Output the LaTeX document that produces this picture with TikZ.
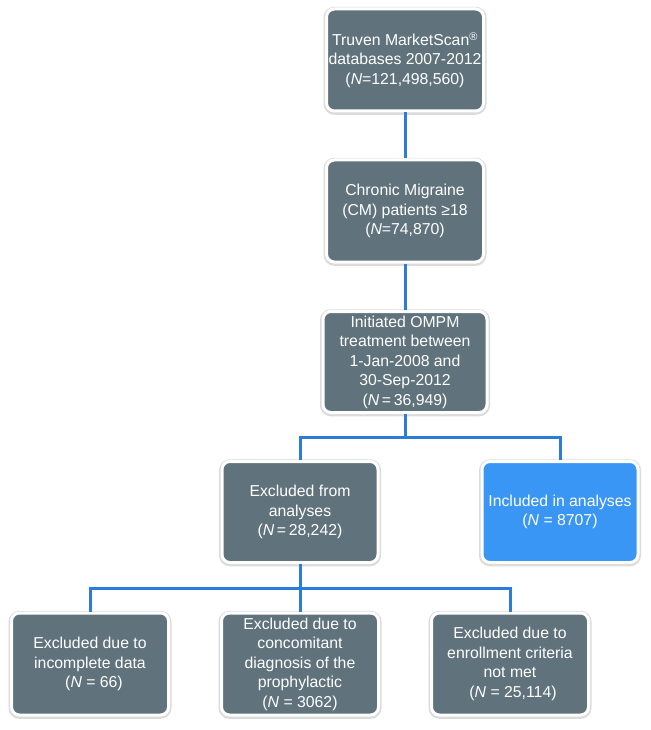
\documentclass[tikz,border=0pt]{standalone}
\usepackage{fontspec}
\setmainfont{Liberation Sans}
\usetikzlibrary{shadows}
\definecolor{boxgray}{RGB}{96,114,124}
\definecolor{boxblue}{RGB}{58,150,245}
\definecolor{linkblue}{RGB}{44,124,218}
\tikzset{
  x=1pt, y=-1pt,
  flowbox/.style={rectangle, rounded corners=8pt, fill=boxgray, draw=white, line width=3pt,
    text=white, align=center, minimum width=157pt, minimum height=102pt, inner sep=2pt,
    font=\fontsize{15.8}{19.5}\selectfont,
    preaction={draw=black!14, line width=6pt, transform canvas={yshift=-0.8pt}}},
  bluebox/.style={flowbox, fill=boxblue},
  link/.style={draw=linkblue, line width=3pt}
}
\begin{document}
\begin{tikzpicture}
\useasboundingbox (0,0) rectangle (650,730);
\coordinate (j1) at (405,437);
\coordinate (j2) at (300,588);
\node[flowbox] (b1) at (405,60) {Truven MarketScan\textsuperscript{®}\\databases 2007-2012\\(\textit{N}=121,498,560)};
\node[flowbox] (b2) at (405,211) {Chronic Migraine\\(CM) patients ≥18\\(\textit{N}=74,870)};
\node[flowbox, minimum width=164pt, minimum height=101pt] (b3) at (405,362) {Initiated OMPM\\treatment between\\1-Jan-2008 and\\30-Sep-2012\\(\textit{N}\,=\,36,949)};
\node[flowbox, minimum width=156pt, minimum height=101pt] (b4) at (300,512) {Excluded from\\analyses\\(\textit{N}\,=\,28,242)};
\node[bluebox, minimum width=156pt, minimum height=101pt] (b5) at (560,512) {Included in analyses\\(\textit{N} = 8707)};
\node[flowbox] (a) at (90,664) {Excluded due to\\incomplete data\\\hspace{8pt}(\textit{N} = 66)};
\node[flowbox] (b) at (300,664) {Excluded due to\\concomitant\\diagnosis of the\\prophylactic\\(\textit{N} = 3062)};
\node[flowbox] (c) at (510,664) {Excluded due to\\enrollment criteria\\not met\\\hspace{6pt}(\textit{N} = 25,114)};
\draw[link] (b1.south) -- (b2.north);
\draw[link] (b2.south) -- (b3.north);
\draw[link] (b3.south) -- (j1);
\draw[link] (b4.north) |- (j1) -| (b5.north);
\draw[link] (b4.south) -- (j2);
\draw[link] (a.north) |- (j2) -| (c.north);
\draw[link] (j2) -- (b.north);
\end{tikzpicture}
\end{document}
